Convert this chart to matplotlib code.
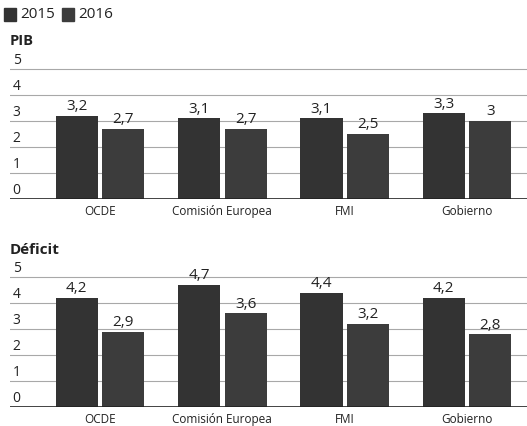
import matplotlib
matplotlib.use("Agg")
import matplotlib.pyplot as plt
import numpy as np

plt.rcParams['font.family'] = ['Open Sans', 'DejaVu Sans']

categories = ["OCDE", "Comisión Europea", "FMI", "Gobierno"]
series_names = ["2015", "2016"]
pib_2015 = [3.2, 3.1, 3.1, 3.3]
pib_2016 = [2.7, 2.7, 2.5, 3.0]
def_2015 = [4.2, 4.7, 4.4, 4.2]
def_2016 = [2.9, 3.6, 3.2, 2.8]
yticks = [0, 1, 2, 3, 4, 5]

colors = ["#333333", "#3c3c3c"]
W, H = 527, 427
fig = plt.figure(figsize=(W / 100, H / 100), dpi=100)
fig.patch.set_facecolor("white")

def fmt(v):
    s = ("%.1f" % v).replace(".", ",")
    if s.endswith(",0"):
        s = s[:-2]
    return s

def panel(y0_px, title, title_y_px, a, b, label_pad):
    ppu = 26.0
    ymax = 5.25
    ax = fig.add_axes([10 / W, (H - y0_px) / H, 1 - 10 / W, ymax * ppu / H])
    x = np.arange(len(categories))
    bw = 0.345
    off = 0.19
    ax.set_xlim(-0.736, 3.49)
    ax.set_ylim(0, ymax)
    for yt in yticks[1:]:
        ax.axhline(yt, color="#a8a8a8", lw=0.8, zorder=0)
    ax.axhline(0, color="#222222", lw=1.2, zorder=3)
    ax.bar(x - off, a, width=bw, color=colors[0], zorder=2)
    ax.bar(x + off, b, width=bw, color=colors[1], zorder=2)
    for xi, v in zip(x - off, a):
        ax.text(xi, v + 0.1, fmt(v), ha="center", va="bottom", fontsize=11, color="#222222")
    for xi, v in zip(x + off, b):
        ax.text(xi, v + 0.1, fmt(v), ha="center", va="bottom", fontsize=11, color="#222222")
    for yt in yticks:
        ax.text(0.005, yt + 0.06, str(yt), transform=ax.get_yaxis_transform(),
                ha="left", va="bottom", fontsize=10, color="#222222")
    ax.set_xticks([])
    ax.set_yticks([])
    for s in ax.spines.values():
        s.set_visible(False)
    for xi, c in zip(x, categories):
        ax.text(xi, -label_pad, c, ha="center", va="top", fontsize=8.5, color="#222222")
    fig.text(10 / W, (H - title_y_px) / H, title, ha="left", va="center",
             fontsize=10.5 if title == "PIB" else 11, fontweight="bold", color="#222222")
    return ax

panel(200, "PIB", 41, pib_2015, pib_2016, 0.18)
panel(408, "Déficit", 250, def_2015, def_2016, 0.18)

# legend
for i, (name, c) in enumerate(zip(series_names, colors)):
    x0 = [4, 62][i]
    fig.patches.append(plt.Rectangle((x0 / W, (H - 22) / H), 12 / W, 13 / H,
                                     transform=fig.transFigure, color=c, figure=fig))
    fig.text((x0 + 16) / W, (H - 15) / H, name, ha="left", va="center",
             fontsize=11, color="#222222")

fig.savefig("out.png", dpi=100, facecolor="white")
